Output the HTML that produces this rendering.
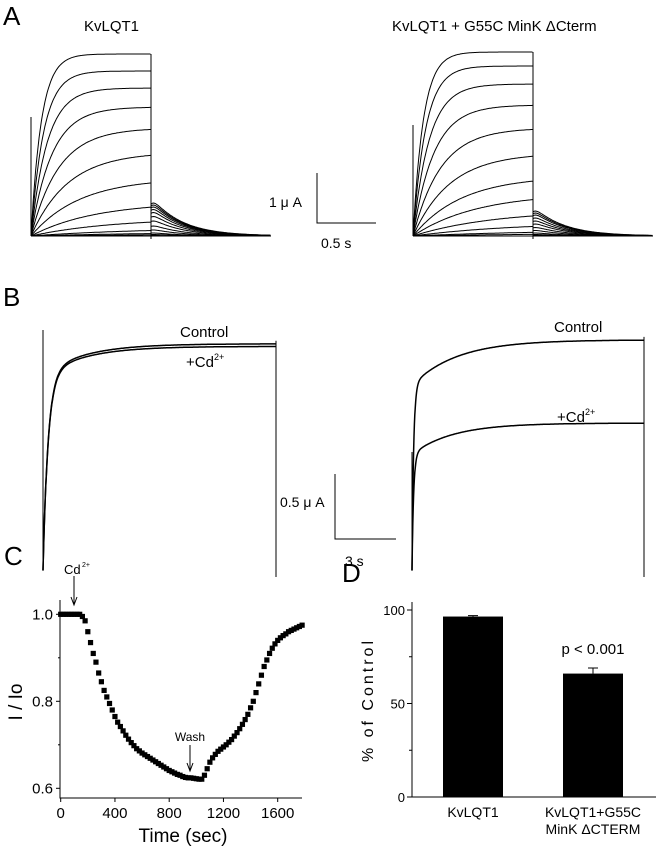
<!DOCTYPE html>
<html><head><meta charset="utf-8"><style>
html,body{margin:0;padding:0;background:#fff;}
svg{display:block;font-family:"Liberation Sans",sans-serif;}
</style></head><body>
<svg id="fig" width="662" height="852" viewBox="0 0 662 852" xmlns="http://www.w3.org/2000/svg">
<g>
<text x="3" y="25" font-size="26">A</text>
<text x="84" y="31" font-size="15">KvLQT1</text>
<text x="392" y="31" font-size="15">KvLQT1 + G55C MinK ΔCterm</text>
<g id="aL"></g>
<g id="aR"></g>
<g stroke="#000" fill="none" stroke-width="1">
<path d="M317,173 V223 H376"/></g>
<text x="269" y="207" font-size="14">1 μ A</text>
<text x="321" y="248" font-size="14">0.5 s</text>
</g>
<g>
<text x="3" y="306" font-size="26">B</text>
<g id="bL"></g>
<g id="bR"></g>
<text x="180" y="337" font-size="15">Control</text>
<text x="186" y="367" font-size="15">+Cd<tspan font-size="9" dy="-7">2+</tspan></text>
<text x="554" y="332" font-size="15">Control</text>
<text x="557" y="422" font-size="15">+Cd<tspan font-size="9" dy="-7">2+</tspan></text>
<path d="M335,474 V539 H396" stroke="#000" fill="none"/>
<text x="280" y="507" font-size="14">0.5 μ A</text>
<text x="345" y="566" font-size="14">3 s</text>
</g>
<g>
<text x="4" y="565" font-size="26">C</text>
<g id="cPlot"></g>
</g>
<g>
<text x="342" y="582" font-size="26">D</text>
<g id="dPlot"></g>
</g>
</svg>
<script>
// Panel A data (µA amplitudes, activation tau in s, tail amplitudes)
const aLeftAmps=[3.64,3.3,2.96,2.58,2.16,1.68,1.16,0.68,0.36,0.16,0.08,0.04];
const aLeftTau=[0.09,0.11,0.14,0.18,0.24,0.32,0.42,0.55,0.7,0.9,1.1,1.3];
const aLeftTail=[0.66,0.62,0.58,0.53,0.47,0.39,0.3,0.2,0.12,0.06,0.03,0.01];
const aRightAmps=[3.68,3.4,3.04,2.62,2.16,1.66,1.2,0.86,0.52,0.28,0.12,0.06];
const aRightTau=[0.09,0.11,0.14,0.18,0.24,0.32,0.42,0.55,0.7,0.9,1.1,1.3];
const aRightTail=[0.5,0.46,0.42,0.36,0.3,0.24,0.17,0.11,0.06,0.03,0.015,0.005];
// Panel B data (µA plateau, instantaneous jump, fast tau, slow tau in s)
const bLeftPlateau=[1.74,1.72];
const bLeftJump=[1.5,1.49];
const bLeftFast=[0.25,0.25];
const bLeftTau=[2.0,2.0];
const bRightPlateau=[1.77,1.13];
const bRightJump=[1.42,0.89];
const bRightFast=[0.08,0.08];
const bRightTau=[2.2,2.0];
// Panel C data
const cTimes=[];for(let t=0;t<=1780;t+=20)cTimes.push(t);
const cValues=[1,1,1,1,1,1,1,1,0.995,0.985,0.96,0.935,0.91,0.89,0.865,0.845,0.825,0.81,0.795,0.78,0.765,0.752,0.742,0.732,0.722,0.713,0.705,0.698,0.691,0.686,0.681,0.677,0.673,0.669,0.665,0.661,0.657,0.653,0.649,0.645,0.641,0.638,0.635,0.632,0.63,0.627,0.625,0.624,0.624,0.623,0.622,0.621,0.621,0.63,0.645,0.66,0.67,0.678,0.685,0.69,0.695,0.7,0.706,0.712,0.72,0.728,0.737,0.747,0.758,0.77,0.785,0.8,0.82,0.84,0.86,0.88,0.895,0.91,0.922,0.932,0.94,0.946,0.951,0.955,0.96,0.963,0.966,0.969,0.972,0.975];
const cXTicks=[0,400,800,1200,1600];
const cYTicks=[0.6,0.8,1.0];
// Panel D data
const dCategories=[["KvLQT1"],["KvLQT1+G55C","MinK ΔCTERM"]];
const dValues=[96.5,66];
const dErrors=[0.5,3];
const dYTicks=[0,50,100];

const NS="http://www.w3.org/2000/svg";
function mk(tag,attrs,parent){const e=document.createElementNS(NS,tag);for(const k in attrs)e.setAttribute(k,attrs[k]);parent.appendChild(e);return e;}

function drawA(g,x0,yBase,amps,taus,tails,vTop){
  const pxPerS=116,pxPerUA=50,stepS=120/116,tailS=120/116;
  const xs=v=>x0+v*pxPerS, ys=v=>yBase-v*pxPerUA;
  const shape=t=>(0.8+0.2*(1-Math.exp(-t/0.03)))*Math.exp(-t/0.26);
  let pk=0;for(let t=0;t<0.3;t+=0.002)pk=Math.max(pk,shape(t));
  for(let i=0;i<amps.length;i++){
    let d="M"+x0+","+yBase;
    for(let t=0;t<=stepS;t+=0.01){d+=" L"+xs(t).toFixed(1)+","+ys(amps[i]*(1-Math.exp(-t/taus[i]))).toFixed(1);}
    const p=mk("path",{d:d,fill:"none",stroke:"#000","stroke-width":1},g);
    
    
    let d2="";
    for(let t=0;t<=tailS;t+=0.01){const v=tails[i]*shape(t)/pk;d2+=(t===0?"M":" L")+xs(stepS+t).toFixed(1)+","+ys(v).toFixed(1);}
    const p2=mk("path",{d:d2,fill:"none",stroke:"#000","stroke-width":1},g);
    
    
  }
  const vx=xs(stepS);
  const l1=mk("path",{d:"M"+x0+","+vTop+" V"+yBase+" M"+vx.toFixed(1)+","+ys(amps[0])+" V"+(yBase+3)+" M"+x0+","+yBase+" H"+xs(stepS+tailS),fill:"none",stroke:"#000","stroke-width":1},g);
  
  
}
drawA(document.getElementById("aL"),31,236,aLeftAmps,aLeftTau,aLeftTail,117);
drawA(document.getElementById("aR"),413,236,aRightAmps,aRightTau,aRightTail,125);

function drawB(g,x0,x1,yBase,plat,jump,fast,tau,vTop){
  const pxPerS=61/3,pxPerUA=65/0.5;
  const ys=v=>yBase-v*pxPerUA;
  const dur=(x1-x0)/pxPerS;
  for(let i=0;i<plat.length;i++){
    let d="M"+x0+","+yBase;
    for(let t=0;t<=dur;t+=0.02){const f=1-Math.exp(-t/fast[i]);const v=jump[i]*f+(plat[i]-jump[i])*(1-Math.exp(-t/tau[i]));d+=" L"+(x0+t*pxPerS).toFixed(1)+","+ys(v).toFixed(1);}
    const p=mk("path",{d:d,fill:"none",stroke:"#000","stroke-width":1.5},g);
    
    
  }
  const l=mk("path",{d:"M"+x0+","+vTop+" V"+(yBase+1)+" M"+x1+","+(ys(plat[0])-3)+" V"+(yBase+7),fill:"none",stroke:"#000","stroke-width":1},g);
  
  
}
drawB(document.getElementById("bL"),43,276,570,bLeftPlateau,bLeftJump,bLeftFast,bLeftTau,330);
drawB(document.getElementById("bR"),412,644,570,bRightPlateau,bRightJump,bRightFast,bRightTau,452);

// Panel C
(function(){
  const g=document.getElementById("cPlot");
  const X=t=>60.7+t*(217/1600), Y=v=>788.3-(v-0.6)*(174/0.4);
  const ax=mk("path",{d:"M60,600 V798 H302",fill:"none",stroke:"#000","stroke-width":1},g);
  
  cXTicks.forEach(t=>{const tk=mk("line",{x1:X(t),x2:X(t),y1:798,y2:802,stroke:"#000"},g);
    const tx=mk("text",{x:X(t),y:818,"font-size":15,"text-anchor":"middle"},g);tx.textContent=t;});
  cYTicks.forEach(v=>{const tk=mk("line",{x1:56,x2:60,y1:Y(v),y2:Y(v),stroke:"#000"},g);
    const tx=mk("text",{x:53,y:Y(v)+5,"font-size":15,"text-anchor":"end"},g);tx.textContent=v.toFixed(1);});
  [0.7,0.9].forEach(v=>{const tk=mk("line",{x1:58,x2:60,y1:Y(v),y2:Y(v),stroke:"#000"},g);});
  cTimes.forEach((t,i)=>{const r=mk("rect",{x:X(t)-2.6,y:Y(cValues[i])-2.6,width:5.2,height:5.2,fill:"#000"},g);});
  const xt=mk("text",{x:183,y:842,"font-size":19,"text-anchor":"middle"},g);xt.textContent="Time (sec)";
  const yt=mk("text",{x:22,y:702,"font-size":19,"text-anchor":"middle",transform:"rotate(-90 22 702)"},g);yt.textContent="I / Io";
  const a1=mk("path",{d:"M74,576 V604 M71,597 L74,605 L77,597",fill:"none",stroke:"#000"},g);
  const t1=mk("text",{x:64,y:574,"font-size":13},g);t1.textContent="Cd";
  const s1=mk("text",{x:82,y:567,"font-size":7},g);s1.textContent="2+";
  const a2=mk("path",{d:"M190,745 V770 M187,763 L190,771 L193,763",fill:"none",stroke:"#000"},g);
  const t2=mk("text",{x:190,y:741,"font-size":12,"text-anchor":"middle"},g);t2.textContent="Wash";
})();

// Panel D
(function(){
  const g=document.getElementById("dPlot");
  const Y=v=>797-v*(187/100);
  const cx=[473,593];const bw=60;
  const ax=mk("path",{d:"M412,602 V797 H656",fill:"none",stroke:"#000","stroke-width":1},g);
  
  dYTicks.forEach(v=>{const tk=mk("line",{x1:407,x2:412,y1:Y(v),y2:Y(v),stroke:"#000"},g);
    const tx=mk("text",{x:405,y:Y(v)+5,"font-size":13,"text-anchor":"end"},g);tx.textContent=v;});
  [25,75].forEach(v=>{const tk=mk("line",{x1:409,x2:412,y1:Y(v),y2:Y(v),stroke:"#000"},g);});
  dValues.forEach((v,i)=>{
    const e=mk("path",{d:"M"+cx[i]+","+Y(v)+" V"+Y(v+dErrors[i])+" M"+(cx[i]-5)+","+Y(v+dErrors[i])+" H"+(cx[i]+5),stroke:"#000",fill:"none"},g);
    const r=mk("rect",{x:cx[i]-bw/2,y:Y(v),width:bw,height:Y(0)-Y(v),fill:"#000"},g);
    dCategories[i].forEach((ln,j)=>{const tx=mk("text",{x:cx[i],y:817+j*17,"font-size":14,"text-anchor":"middle"},g);tx.textContent=ln;});
  });
  const p=mk("text",{x:593,y:654,"font-size":15,"text-anchor":"middle"},g);p.textContent="p < 0.001";
  const yt=mk("text",{x:373,y:700,"font-size":16,"text-anchor":"middle","letter-spacing":"3",transform:"rotate(-90 373 700)"},g);yt.textContent="% of Control";
})();
</script>
</body></html>
